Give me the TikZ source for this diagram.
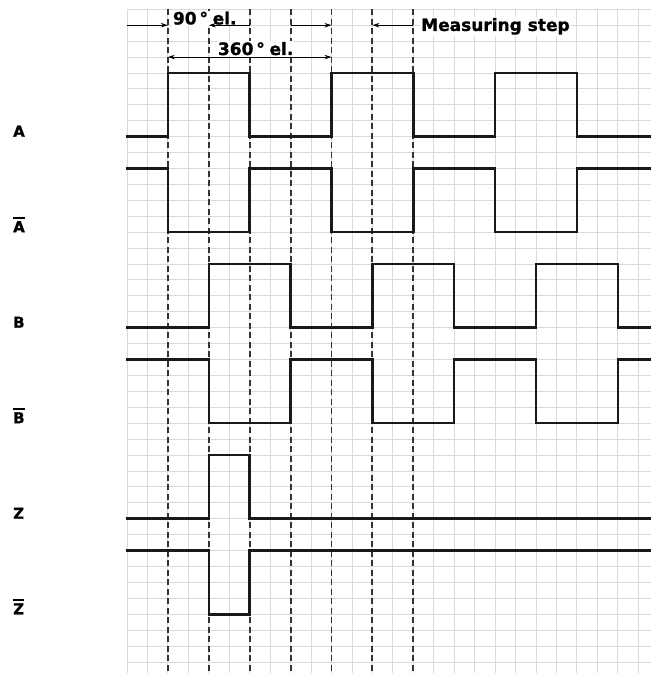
\documentclass[tikz,border=0pt]{standalone}
\usepackage{fontspec}
\setmainfont{DejaVu Sans}
\newfontfamily\heavy[BoldFeatures={FakeBold=1.2}]{DejaVu Sans}
\usetikzlibrary{arrows.meta}
\newcommand\olbar[1]{\leavevmode\vbox{\hrule height 1.8pt\kern 2.4pt\hbox{#1}}}
\tikzset{
  gridline/.style={draw=black!15, line width=0.9pt},
  sigline/.style={draw=black!90, line width=2.5pt, line join=miter, line cap=rect},
  dashline/.style={draw=black!80, line width=1.9pt, dash pattern=on 6pt off 3.5pt},
  dimarrow/.style={draw=black, line width=0.9pt, -{Stealth[length=7pt,width=4.5pt]}},
  dimboth/.style={draw=black, line width=0.9pt, {Stealth[length=7pt,width=4.5pt]}-{Stealth[length=7pt,width=4.5pt]}},
  toptext/.style={font=\heavy\bfseries\fontsize{17}{17}\selectfont, fill=white, inner sep=1pt, anchor=base west},
  siglabel/.style={font=\heavy\bfseries\fontsize{15}{15}\selectfont, inner sep=0pt, anchor=base west},
}
\begin{document}
\begin{tikzpicture}[x=20.45pt, y=-15.92pt, shift={(127pt,-9.3pt)}]
\useasboundingbox (-6.2103,-0.5842) rectangle (25.6235,41.6897);
% grid
\foreach \k in {0,...,25} \draw[gridline] (\k,0) -- (\k,41.6897);
\foreach \j in {0,...,41} \draw[gridline] (0,\j) -- (25.6235,\j);
% dashed reference lines
\foreach \k in {2,4,...,14} \draw[dashline] (\k,0) -- (\k,41.6897);
% signals
\def\R{25.6235}
\draw[sigline] (0,8) -- (2,8) -- (2,4) -- (6,4) -- (6,8) -- (10,8) -- (10,4) -- (14,4) -- (14,8) -- (18,8) -- (18,4) -- (22,4) -- (22,8) -- (\R,8);
\draw[sigline] (0,10) -- (2,10) -- (2,14) -- (6,14) -- (6,10) -- (10,10) -- (10,14) -- (14,14) -- (14,10) -- (18,10) -- (18,14) -- (22,14) -- (22,10) -- (\R,10);
\draw[sigline] (0,20) -- (4,20) -- (4,16) -- (8,16) -- (8,20) -- (12,20) -- (12,16) -- (16,16) -- (16,20) -- (20,20) -- (20,16) -- (24,16) -- (24,20) -- (\R,20);
\draw[sigline] (0,22) -- (4,22) -- (4,26) -- (8,26) -- (8,22) -- (12,22) -- (12,26) -- (16,26) -- (16,22) -- (20,22) -- (20,26) -- (24,26) -- (24,22) -- (\R,22);
\draw[sigline] (0,32) -- (4,32) -- (4,28) -- (6,28) -- (6,32) -- (\R,32);
\draw[sigline] (0,34) -- (4,34) -- (4,38) -- (6,38) -- (6,34) -- (\R,34);
% signal labels
\node[siglabel] (lA)  at (-5.575,8)  {A};
\node[siglabel] (lAn) at (-5.575,14) {\olbar{A}};
\node[siglabel] (lB)  at (-5.575,20) {B};
\node[siglabel] (lBn) at (-5.575,26) {\olbar{B}};
\node[siglabel] (lZ)  at (-5.575,32) {Z};
\node[siglabel] (lZn) at (-5.575,38) {\olbar{Z}};
% top texts
\node[toptext] (t90)  at (2.19,0.95) {90\,°\;el.};
\node[toptext] (t360) at (4.39,2.87) {360\,°\;el.};
\node[toptext] (tms)  at (14.33,1.36) {Measuring step};
% dimension arrows
\coordinate (a1s) at (0,1);  \coordinate (a1e) at (2,1);
\coordinate (a2s) at (6,1);  \coordinate (a2e) at (4,1);
\coordinate (a3s) at (8,1);  \coordinate (a3e) at (10,1);
\coordinate (a4s) at (14,1); \coordinate (a4e) at (12,1);
\coordinate (b1s) at (2,3);  \coordinate (b1e) at (10,3);
\draw[dimarrow] (a1s) -- (a1e);
\draw[dimarrow] (a2s) -- (a2e);
\draw[dimarrow] (a3s) -- (a3e);
\draw[dimarrow] (a4s) -- (a4e);
\draw[dimboth] (b1s) -- (b1e);
\end{tikzpicture}
\end{document}
